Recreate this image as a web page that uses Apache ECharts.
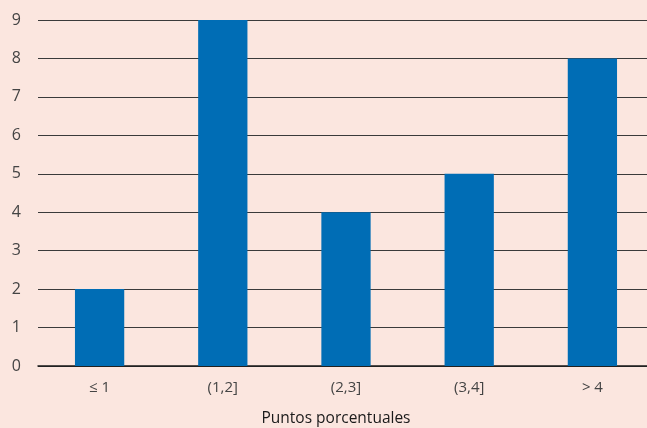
<!DOCTYPE html>
<html>
<head>
<meta charset="utf-8">
<script src="https://cdn.jsdelivr.net/npm/echarts@6/dist/echarts.min.js"></script>
<style>
  html, body { margin: 0; padding: 0; background: #fbe6df; }
  #chart { width: 647px; height: 428px; }
</style>
</head>
<body>
<div id="chart"></div>
<script>
// tramos de puntos porcentuales
var categorias = ['≤ 1', '(1,2]', '(2,3]', '(3,4]', '> 4'];
var valores = [2, 9, 4, 5, 8];

var myChart = echarts.init(document.getElementById('chart'));

myChart.setOption({
  backgroundColor: '#fbe6df',
  animation: false,
  grid: {
    left: 38,
    top: 20,
    width: 616,
    height: 346,
    outerBoundsMode: 'none',
    containLabel: false
  },
  xAxis: {
    type: 'category',
    data: categorias,
    name: 'Puntos porcentuales',
    nameLocation: 'middle',
    nameGap: 45,
    nameTextStyle: { color: '#1a1a1a', fontSize: 15.5, fontFamily: 'Open Sans', padding: [0, 20, 0, 0] },
    axisLine: { lineStyle: { color: '#1a1a1a', width: 1.5 } },
    axisTick: { inside: true, length: 5, lineStyle: { color: '#1a1a1a' } },
    axisLabel: { color: '#444', fontSize: 15, fontFamily: 'Open Sans', margin: 14 }
  },
  yAxis: {
    type: 'value',
    min: 0,
    max: 9,
    interval: 1,
    axisLine: { show: false },
    axisTick: { show: false },
    axisLabel: { color: '#444', fontSize: 16, fontFamily: 'Open Sans', margin: 17 },
    splitLine: { lineStyle: { color: '#3a3a3a', width: 1 } }
  },
  series: [{
    type: 'bar',
    data: valores,
    barWidth: '40%',
    itemStyle: { color: '#006db5' }
  }]
});

window.onresize = function () {
  myChart.resize();
};
</script>
</body>
</html>
